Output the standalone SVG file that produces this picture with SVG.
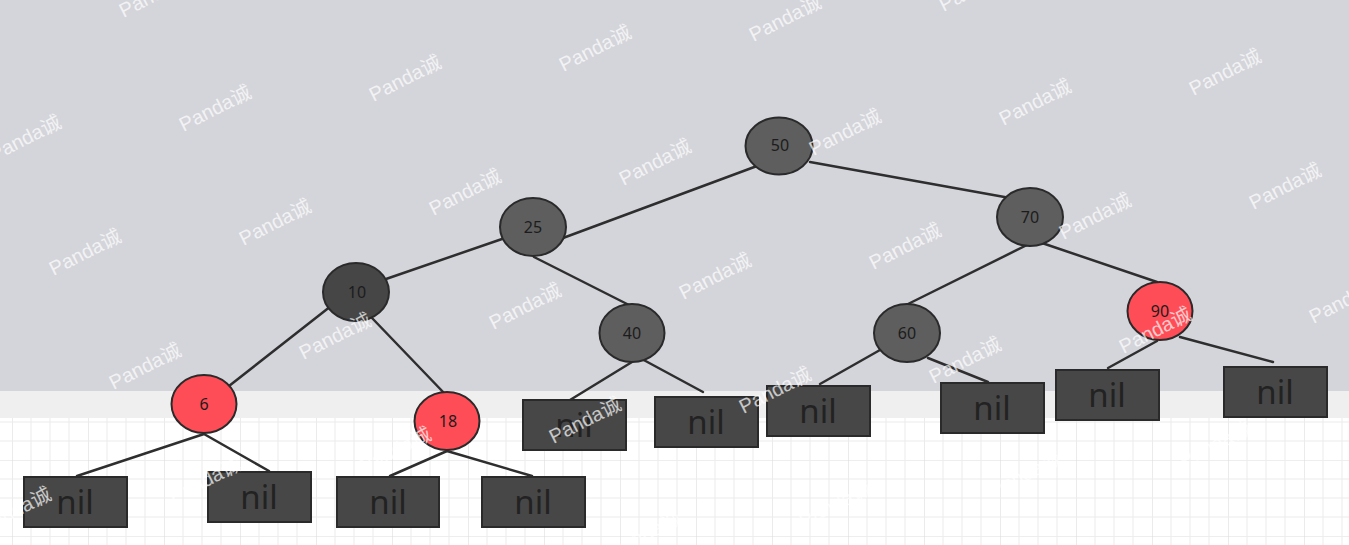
<svg xmlns="http://www.w3.org/2000/svg" width="1349" height="545" viewBox="0 0 1349 545">
<defs>
<pattern id="grid" x="12" y="4" width="76" height="76" patternUnits="userSpaceOnUse">
<rect width="76" height="76" fill="#ffffff"/>
<path d="M0 0V76M0 0H76" stroke="#dedede" stroke-width="1.2" fill="none"/>
<path d="M19 0V76M38 0V76M57 0V76M0 19H76M0 38H76M0 57H76" stroke="#ececec" stroke-width="1" fill="none"/>
</pattern>
<style>
.edge{stroke:#2e2e2e;stroke-width:2.5;fill:none;stroke-linecap:round}
.black{fill:#5e5e5e;stroke:#2a2a2a;stroke-width:2}
.dark{fill:#464646;stroke:#2a2a2a;stroke-width:2}
.red{fill:#fe4d56;stroke:#2a2a2a;stroke-width:2}
.nil{fill:#474747;stroke:#2a2a2a;stroke-width:2}
.num{font-family:"Noto Sans","Liberation Sans",sans-serif;font-size:16px;fill:#1c1c1c;text-anchor:middle}
.niltxt{font-family:"Noto Sans","Liberation Sans",sans-serif;font-size:33px;fill:#222222;text-anchor:middle}
.wm{font-family:"Liberation Sans","Noto Sans CJK SC",sans-serif;font-size:20px;fill:#ffffff;opacity:0.7;text-anchor:middle}
</style>
</defs>
<rect x="0" y="0" width="1349" height="545" fill="url(#grid)"/>
<rect x="0" y="0" width="1349" height="391" fill="#d4d5da"/>
<rect x="0" y="391" width="1349" height="27" fill="#efefef"/>

<g id="connectors">
<line class="edge" x1="757" y1="166" x2="563" y2="238"/>
<line class="edge" x1="810" y1="162" x2="1010" y2="198"/>
<line class="edge" x1="502" y1="239" x2="386" y2="279"/>
<line class="edge" x1="534" y1="257" x2="629" y2="305"/>
<line class="edge" x1="331" y1="306" x2="229" y2="386"/>
<line class="edge" x1="372" y1="318" x2="445" y2="394"/>
<line class="edge" x1="1027" y1="245" x2="906" y2="305"/>
<line class="edge" x1="1042" y1="243" x2="1157" y2="282"/>
<line class="edge" x1="632" y1="362" x2="570" y2="400"/>
<line class="edge" x1="640" y1="358" x2="703" y2="392"/>
<line class="edge" x1="880" y1="350" x2="820" y2="384"/>
<line class="edge" x1="928" y1="358" x2="988" y2="382"/>
<line class="edge" x1="1157" y1="341" x2="1108" y2="368"/>
<line class="edge" x1="1180" y1="337" x2="1273" y2="362"/>
<line class="edge" x1="204" y1="434" x2="77" y2="476"/>
<line class="edge" x1="204" y1="434" x2="269" y2="471"/>
<line class="edge" x1="447" y1="451" x2="390" y2="476"/>
<line class="edge" x1="447" y1="451" x2="532" y2="476"/>
</g>

<g id="n50"><ellipse class="black" cx="779" cy="146" rx="33.5" ry="28.5"/><text class="num" x="780" y="151">50</text></g>
<g id="n25"><ellipse class="black" cx="533" cy="227" rx="33" ry="29"/><text class="num" x="533" y="233">25</text></g>
<g id="n70"><ellipse class="black" cx="1030" cy="217" rx="33" ry="29"/><text class="num" x="1030" y="223">70</text></g>
<g id="n10"><ellipse class="dark" cx="356" cy="292" rx="33" ry="29"/><text class="num" x="357" y="298">10</text></g>
<g id="n40"><ellipse class="black" cx="632" cy="333" rx="32.5" ry="29"/><text class="num" x="632" y="339">40</text></g>
<g id="n60"><ellipse class="black" cx="907" cy="333" rx="33" ry="29"/><text class="num" x="907" y="339">60</text></g>
<g id="n90"><ellipse class="red" cx="1160" cy="311" rx="32.5" ry="29"/><text class="num" x="1160" y="317">90</text></g>
<g id="n6"><ellipse class="red" cx="204" cy="404" rx="32.5" ry="29"/><text class="num" x="204" y="410">6</text></g>
<g id="n18"><ellipse class="red" cx="447" cy="421" rx="32.5" ry="29"/><text class="num" x="448" y="427">18</text></g>

<g id="nil6L"><rect class="nil" x="24" y="477" width="103" height="50"/><text class="niltxt" x="75" y="514">nil</text></g>
<g id="nil6R"><rect class="nil" x="208" y="472" width="103" height="50"/><text class="niltxt" x="259" y="509">nil</text></g>
<g id="nil18L"><rect class="nil" x="337" y="477" width="102" height="50"/><text class="niltxt" x="388" y="514">nil</text></g>
<g id="nil18R"><rect class="nil" x="482" y="477" width="103" height="50"/><text class="niltxt" x="533" y="514">nil</text></g>
<g id="nil40L"><rect class="nil" x="523" y="400" width="103" height="50"/><text class="niltxt" x="574" y="437">nil</text></g>
<g id="nil40R"><rect class="nil" x="655" y="397" width="103" height="50"/><text class="niltxt" x="706" y="434">nil</text></g>
<g id="nil60L"><rect class="nil" x="767" y="386" width="103" height="50"/><text class="niltxt" x="818" y="423">nil</text></g>
<g id="nil60R"><rect class="nil" x="941" y="383" width="103" height="50"/><text class="niltxt" x="992" y="420">nil</text></g>
<g id="nil90L"><rect class="nil" x="1056" y="370" width="103" height="50"/><text class="niltxt" x="1107" y="407">nil</text></g>
<g id="nil90R"><rect class="nil" x="1224" y="367" width="103" height="50"/><text class="niltxt" x="1275" y="404">nil</text></g>

<g id="watermarks">
<text class="wm" transform="translate(155,-6) rotate(-27)" y="7">Panda诚</text>
<text class="wm" transform="translate(25,138) rotate(-27)" y="7">Panda诚</text>
<text class="wm" transform="translate(215,108) rotate(-27)" y="7">Panda诚</text>
<text class="wm" transform="translate(405,78) rotate(-27)" y="7">Panda诚</text>
<text class="wm" transform="translate(595,48) rotate(-27)" y="7">Panda诚</text>
<text class="wm" transform="translate(785,18) rotate(-27)" y="7">Panda诚</text>
<text class="wm" transform="translate(975,-12) rotate(-27)" y="7">Panda诚</text>
<text class="wm" transform="translate(85,252) rotate(-27)" y="7">Panda诚</text>
<text class="wm" transform="translate(275,222) rotate(-27)" y="7">Panda诚</text>
<text class="wm" transform="translate(465,192) rotate(-27)" y="7">Panda诚</text>
<text class="wm" transform="translate(655,162) rotate(-27)" y="7">Panda诚</text>
<text class="wm" transform="translate(845,132) rotate(-27)" y="7">Panda诚</text>
<text class="wm" transform="translate(1035,102) rotate(-27)" y="7">Panda诚</text>
<text class="wm" transform="translate(1225,72) rotate(-27)" y="7">Panda诚</text>
<text class="wm" transform="translate(145,366) rotate(-27)" y="7">Panda诚</text>
<text class="wm" transform="translate(335,336) rotate(-27)" y="7">Panda诚</text>
<text class="wm" transform="translate(525,306) rotate(-27)" y="7">Panda诚</text>
<text class="wm" transform="translate(715,276) rotate(-27)" y="7">Panda诚</text>
<text class="wm" transform="translate(905,246) rotate(-27)" y="7">Panda诚</text>
<text class="wm" transform="translate(1095,216) rotate(-27)" y="7">Panda诚</text>
<text class="wm" transform="translate(1285,186) rotate(-27)" y="7">Panda诚</text>
<text class="wm" transform="translate(15,510) rotate(-27)" y="7">Panda诚</text>
<text class="wm" transform="translate(205,480) rotate(-27)" y="7">Panda诚</text>
<text class="wm" transform="translate(395,450) rotate(-27)" y="7">Panda诚</text>
<text class="wm" transform="translate(585,420) rotate(-27)" y="7">Panda诚</text>
<text class="wm" transform="translate(775,390) rotate(-27)" y="7">Panda诚</text>
<text class="wm" transform="translate(965,360) rotate(-27)" y="7">Panda诚</text>
<text class="wm" transform="translate(1155,330) rotate(-27)" y="7">Panda诚</text>
<text class="wm" transform="translate(1345,300) rotate(-27)" y="7">Panda诚</text>
<text class="wm" transform="translate(645,534) rotate(-27)" y="7">Panda诚</text>
<text class="wm" transform="translate(835,504) rotate(-27)" y="7">Panda诚</text>
<text class="wm" transform="translate(1025,474) rotate(-27)" y="7">Panda诚</text>
<text class="wm" transform="translate(1215,444) rotate(-27)" y="7">Panda诚</text>
</g>
</svg>
